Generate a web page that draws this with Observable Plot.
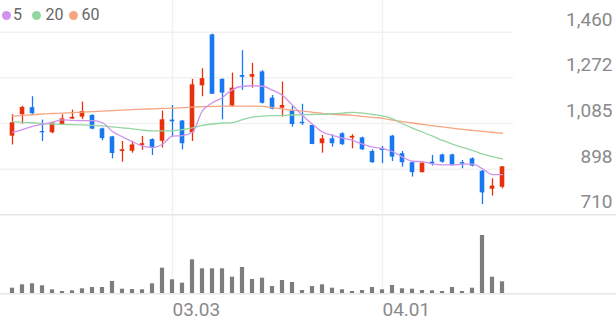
<!DOCTYPE html>
<html>
<head>
<meta charset="utf-8">
<script src="https://cdn.jsdelivr.net/npm/d3@7"></script>
<script src="https://cdn.jsdelivr.net/npm/@observablehq/plot@0.6"></script>
<style>
  html, body { margin: 0; padding: 0; background: #fff; }
  #chart { position: relative; width: 616px; height: 321px; font-family: Roboto, sans-serif; }
  #chart svg { display: block; position: absolute; left: 0; }
  .legend { position: absolute; left: 0; top: 0; height: 30px; font-family: Roboto, sans-serif; font-size: 16px; color: #666; }
  .legend .dot { position: absolute; width: 9px; height: 9px; border-radius: 50%; top: 10.5px; }
  .legend .lbl { position: absolute; top: 6px; line-height: 18px; }
</style>
</head>
<body>
<div id="chart"></div>
<script>
const dates = ["2021-02-04","2021-02-05","2021-02-08","2021-02-09","2021-02-10","2021-02-15","2021-02-16","2021-02-17","2021-02-18","2021-02-19",
  "2021-02-22","2021-02-23","2021-02-24","2021-02-25","2021-02-26","2021-03-02","2021-03-03","2021-03-04","2021-03-05","2021-03-08",
  "2021-03-09","2021-03-10","2021-03-11","2021-03-12","2021-03-15","2021-03-16","2021-03-17","2021-03-18","2021-03-19","2021-03-22",
  "2021-03-23","2021-03-24","2021-03-25","2021-03-26","2021-03-29","2021-03-30","2021-03-31","2021-04-01","2021-04-02","2021-04-05",
  "2021-04-06","2021-04-07","2021-04-08","2021-04-09","2021-04-12","2021-04-13","2021-04-14","2021-04-15","2021-04-16","2021-04-19"];
const open  = [1033,1121,1150,1052,1047,1080,1103,1111,1118,1063,1030,970,971,995,1019,1012,1099,1095,1047,1240,1449,1266,1156,1282,1275,1297,1189,1148,1137,1090,1077,1002,1022,1043,1025,1026,970,981,1033,961,924,883,926,956,956,924,940,889,815,823];
const high  = [1121,1156,1195,1099,1091,1121,1140,1173,1121,1066,1032,1011,1012,1032,1022,1136,1159,1097,1266,1310,1452,1269,1292,1384,1332,1302,1200,1255,1155,1164,1080,1036,1039,1047,1039,1029,977,991,1036,970,926,923,954,959,959,933,944,892,858,908];
const low   = [997,1082,1118,1011,1043,1077,1102,1101,1059,1014,940,926,963,975,954,984,1029,977,1011,1195,1204,1100,1152,1221,1230,1165,1141,1111,1070,1077,998,963,988,995,981,974,921,920,929,906,865,882,910,922,910,899,907,752,787,817];
const close = [1088,1151,1125,1047,1088,1104,1110,1134,1062,1023,962,977,997,1002,987,1100,1092,1002,1244,1269,1205,1210,1230,1275,1286,1168,1144,1159,1081,1084,999,1022,1002,998,1032,977,924,974,947,924,883,922,920,926,913,918,910,800,828,907];
const volume = [560,900,1000,800,400,230,300,500,630,630,1230,460,430,400,1000,2560,1400,1060,3400,2500,2500,2500,1660,2630,1430,1560,730,1330,1130,330,730,900,560,400,230,330,630,400,830,500,460,330,300,230,630,230,560,5830,1660,1200];
const ma5  = [1049,1060,1073,1082,1090,1100,1098,1097,1097,1088,1052,1030,1010,992,986,1000,1033,1035,1050,1138,1170,1192,1224,1238,1240,1238,1222,1200,1160,1118,1082,1050,1036,1025,1016,1000,988,982,970,947,930,928,919,915,915,918,918,899,875,875];
const ma20 = [1093,1090,1088,1085,1083,1081,1080,1079,1077,1075,1071,1067,1063,1058,1055,1055,1055,1060,1067,1077,1083,1087,1089,1101,1111,1115,1117,1118,1120,1121,1122,1123,1125,1128,1131,1128,1122,1116,1104,1084,1066,1050,1033,1016,1000,987,975,960,949,940];
const ma60 = [1115,1118,1121,1124,1126,1128,1130,1132,1134,1136,1138,1140,1142,1144,1145,1147,1148,1150,1152,1154,1155,1156,1156,1156,1156,1155,1150,1145,1140,1136,1131,1127,1123,1121,1118,1114,1110,1106,1099,1093,1087,1081,1076,1071,1066,1061,1057,1053,1049,1045];
const yTicks = [710, 897.5, 1085, 1272.5, 1460];
const yTickLabels = ["710", "898", "1,085", "1,272", "1,460"];
const xTickDates = ["2021-03-03", "2021-04-01"];
const xTickLabels = ["03.03", "04.01"];
const maLabels = ["5", "20", "60"];
const maColors = ["#cf93ec", "#93d6a2", "#f7a580"];

const UP = "#e8300d", DOWN = "#1778f2", GRID = "#f1f1f1", SEP = "#e6e6e6", LABEL = "#8a8a8a";
const rows = dates.map((d, i) => ({date: d, open: open[i], high: high[i], low: low[i], close: close[i],
  volume: volume[i], ma5: ma5[i], ma20: ma20[i], ma60: ma60[i]}));
const candleColor = d => d.close >= d.open ? UP : DOWN;

const price = Plot.plot({
  width: 616, height: 215,
  marginLeft: 0, marginRight: 103, marginTop: 31.7, marginBottom: 0.7,
  style: {fontFamily: "Roboto, sans-serif", background: "transparent", overflow: "visible"},
  x: {type: "band", domain: dates, padding: 0, axis: null},
  y: {domain: [710, 1460], axis: null},
  marks: [
    Plot.ruleY(yTicks.slice(1), {stroke: GRID, strokeWidth: 1.5}),
    Plot.ruleX(xTickDates, {stroke: GRID, strokeWidth: 1.5, insetTop: -31.7}),
    Plot.ruleY([710], {stroke: SEP, strokeWidth: 1.5, insetRight: -103}),
    Plot.ruleX(rows, {x: "date", y1: "low", y2: "high", stroke: candleColor, strokeWidth: 1.3}),
    Plot.barY(rows, {x: "date", y1: "open", y2: "close", fill: candleColor, insetLeft: 2.7, insetRight: 2.7}),
    Plot.line(rows, {x: "date", y: "ma60", stroke: maColors[2], strokeWidth: 1.3, curve: "monotone-x"}),
    Plot.line(rows, {x: "date", y: "ma20", stroke: maColors[1], strokeWidth: 1.3, curve: "monotone-x"}),
    Plot.line(rows, {x: "date", y: "ma5", stroke: maColors[0], strokeWidth: 1.3, curve: "monotone-x"}),
    Plot.axisY(yTicks, {anchor: "right", label: null, tickSize: 0, tickPadding: 99, textAnchor: "end", lineAnchor: "bottom", dy: -6.5,
      fontSize: 19, fill: LABEL, tickFormat: d => yTickLabels[yTicks.indexOf(d)]})
  ]
});

const vol = Plot.plot({
  width: 616, height: 106,
  marginLeft: 0, marginRight: 103, marginTop: 0, marginBottom: 27.7,
  style: {fontFamily: "Roboto, sans-serif", background: "transparent", overflow: "visible"},
  x: {type: "band", domain: dates, padding: 0, axis: null},
  y: {domain: [0, 7830], axis: null},
  marks: [
    Plot.ruleX(xTickDates, {stroke: GRID, strokeWidth: 1.5}),
    Plot.barY(rows, {x: "date", y: "volume", fill: "#7d7d7d", insetLeft: 2.9, insetRight: 2.9}),
    Plot.ruleY([0], {stroke: SEP, strokeWidth: 1.5, insetRight: -103}),
    Plot.axisX(xTickDates, {anchor: "bottom", label: null, tickSize: 0, tickPadding: 8.2, textAnchor: "start", fontSize: 19, fill: LABEL,
      tickFormat: d => xTickLabels[xTickDates.indexOf(d)]})
  ]
});

const chart = document.getElementById("chart");
price.style.top = "0px";
vol.style.top = "215px";
chart.appendChild(price);
chart.appendChild(vol);

const legend = document.createElement("div");
legend.className = "legend";
const dotX = [1.5, 32, 68.5];
const lblX = [13, 45.5, 81.5];
maLabels.forEach((t, i) => {
  const dot = document.createElement("span");
  dot.className = "dot";
  dot.style.left = dotX[i] + "px";
  dot.style.background = maColors[i];
  const lbl = document.createElement("span");
  lbl.className = "lbl";
  lbl.style.left = lblX[i] + "px";
  lbl.textContent = t;
  legend.appendChild(dot);
  legend.appendChild(lbl);
});
chart.appendChild(legend);
</script>
</body>
</html>
